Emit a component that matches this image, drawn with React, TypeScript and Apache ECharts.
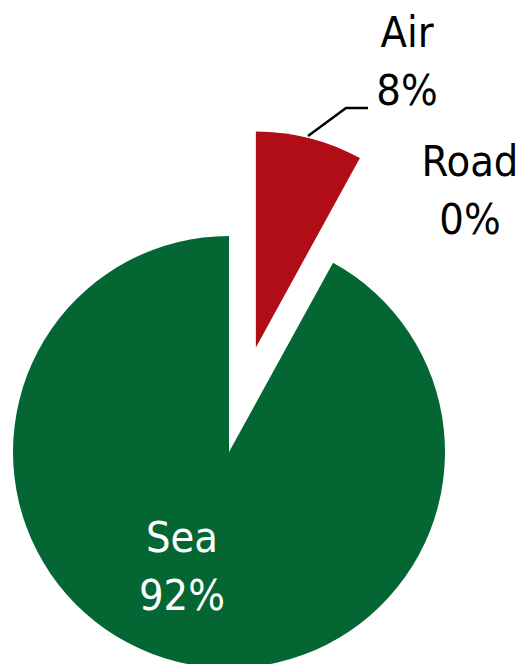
import React, { useEffect, useRef } from "react";
import * as echarts from "echarts";

const categories = ["Air", "Road", "Sea"];
const values = [8, 0, 92];
const colors = ["#b00d17", "#b00d17", "#036633"];
const labelColors = ["#000000", "#000000", "#ffffff"];

export default function App() {
  const ref = useRef<HTMLDivElement>(null);
  useEffect(() => {
    if (!ref.current) return;
    const chart = echarts.init(ref.current, undefined, { renderer: "svg" });
    const font = "'DejaVu Sans Condensed', 'Liberation Sans Narrow', sans-serif";
    const total = values.reduce((a, b) => a + b, 0);
    const pct = (v: number) => Math.round((v / total) * 100);
    chart.setOption({
      animation: false,
      backgroundColor: "#ffffff",
      graphic: [
        {
          type: "polyline",
          shape: {
            points: [
              [308, 136],
              [346, 108],
              [368, 108],
            ],
          },
          style: { stroke: "#000000", lineWidth: 2.5, fill: "none" },
          silent: true,
        },
        {
          type: "text",
          x: 407,
          y: 61,
          style: {
            text: `${categories[0]}\n${pct(values[0])}%`,
            fontFamily: font,
            fontSize: 43,
            lineHeight: 58,
            fill: "#000000",
            align: "center",
            verticalAlign: "middle",
          },
          silent: true,
        },
      ],
      series: [
        {
          type: "pie",
          center: [229, 452],
          radius: 216,
          startAngle: 90,
          clockwise: true,
          selectedMode: "single",
          selectedOffset: 108,
          avoidLabelOverlap: false,
          stillShowZeroSum: true,
          label: {
            show: true,
            formatter: "{b}\n{d}%",
            fontFamily: font,
            fontSize: 43,
            lineHeight: 58,
            align: "center",
          },
          labelLine: { show: false },
          labelLayout: (p: any) => {
            if (p.dataIndex === 1) {
              return { x: 470, y: 190, align: "center", verticalAlign: "middle" };
            }
            if (p.dataIndex === 2) {
              return { x: 182, y: 566, align: "center", verticalAlign: "middle" };
            }
            return {};
          },
          data: categories.map((name, i) => ({
            name,
            value: values[i],
            selected: i === 0,
            itemStyle: { color: colors[i], borderWidth: 0 },
            label: {
              show: i !== 0,
              color: labelColors[i],
              position: i === 2 ? "inside" : "outside",
            },
            labelLine: { show: false },
          })),
        },
      ],
    });
    return () => chart.dispose();
  }, []);
  return (
    <div
      ref={ref}
      style={{ position: "absolute", left: 0, top: 0, width: 520, height: 664 }}
    />
  );
}
